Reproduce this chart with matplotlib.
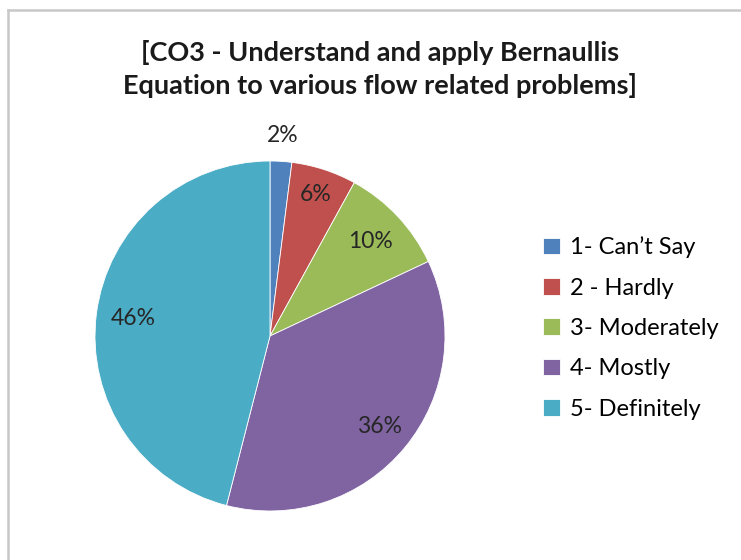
import matplotlib.pyplot as plt
from matplotlib.lines import Line2D
import numpy as np

plt.rcParams['font.family'] = ['Lato', 'DejaVu Sans']

title = "[CO3 - Understand and apply Bernaullis\nEquation to various flow related problems]"
categories = ["1- Can\u2019t Say", "2 - Hardly", "3- Moderately", "4- Mostly", "5- Definitely"]
shares = [2, 6, 10, 36, 46]

colors = ['#4F81BD', '#C0504D', '#9BBB59', '#8064A2', '#4BACC6']
# radial position of each percent label (fraction of radius), Excel "best fit" style
label_dist = [1.15, 0.85, 0.79, 0.81, 0.79]

W, H = 741, 560
fig = plt.figure(figsize=(W / 100, H / 100), dpi=100)

# chart area border (light grey, left and top visible)
fig.add_artist(Line2D([8 / W, 8 / W], [0, 1 - 10 / H], color='#c8c8c8', lw=1.8))
fig.add_artist(Line2D([8 / W, 1], [1 - 10 / H, 1 - 10 / H], color='#c8c8c8', lw=1.8))

cx, cy, r = 270, 336, 175
ax = fig.add_axes([(cx - r) / W, (H - cy - r) / H, 2 * r / W, 2 * r / H])

wedges, _ = ax.pie(shares, colors=colors, startangle=90, counterclock=False,
                   radius=1.0, wedgeprops=dict(linewidth=0.6, edgecolor='white'))
ax.set_xlim(-1, 1)
ax.set_ylim(-1, 1)
ax.set_aspect('equal')
ax.axis('off')

for w, val, d in zip(wedges, shares, label_dist):
    ang = np.radians((w.theta1 + w.theta2) / 2)
    ax.text(d * np.cos(ang), d * np.sin(ang), f"{val}%", ha='center', va='center',
            fontsize=16.5, color='#262626')

fig.text(380 / W, 1 - 69 / H, title, ha='center', va='center', fontsize=19.5,
         fontweight='bold', color='#1a1a1a', linespacing=1.4)

fig.legend(wedges, categories, loc='center left', bbox_to_anchor=(543 / W, 1 - 328 / H),
           frameon=False, fontsize=17, handlelength=0.7, handleheight=0.7,
           handletextpad=0.45, labelspacing=0.82, borderaxespad=0, borderpad=0)

fig.savefig('out.png', dpi=100, facecolor='white')
